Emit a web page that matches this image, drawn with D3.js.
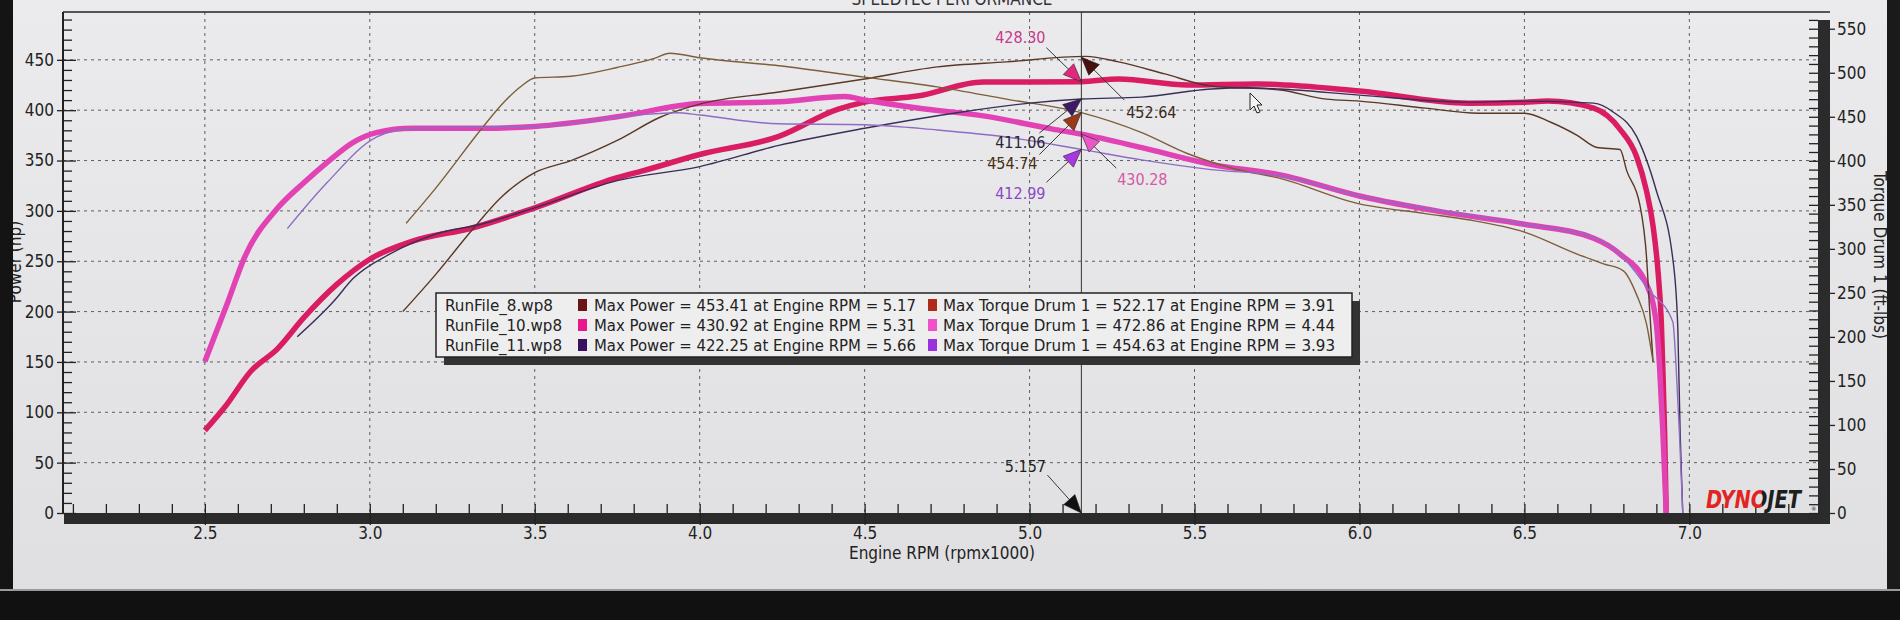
<!DOCTYPE html>
<html>
<head>
<meta charset="utf-8">
<script src="https://cdn.jsdelivr.net/npm/d3@7"></script>
<style>
  body { margin: 0; background: #111; }
  svg { display: block; }
  text { font-family: "DejaVu Sans Condensed", "DejaVu Sans", sans-serif; }
</style>
</head>
<body>
<script>
const width = 1900;
const height = 620;

// [engine rpm x1000, value]  power in hp (left axis), torque in ft-lbs (right axis)
const run8Power = [[3.10, 200], [3.20, 237], [3.31, 281], [3.40, 314], [3.50, 338], [3.61, 350], [3.75, 370], [3.88, 393], [4.00, 406], [4.24, 418], [4.50, 431], [4.72, 443], [4.93, 448], [5.17, 453.4], [5.27, 448], [5.41, 436], [5.55, 424], [5.76, 420], [5.90, 411], [6.00, 409], [6.20, 402], [6.36, 397], [6.50, 397], [6.58, 388], [6.66, 375], [6.72, 363], [6.79, 361], [6.81, 340], [6.85, 306], [6.87, 255], [6.88, 200], [6.89, 150]];
const run8Torque = [[3.11, 329], [3.20, 369], [3.34, 437], [3.40, 464], [3.46, 485], [3.50, 494], [3.61, 496], [3.75, 506], [3.86, 516], [3.91, 522.2], [4.00, 517], [4.24, 508], [4.50, 495], [4.72, 484], [4.93, 470], [5.157, 454.7], [5.34, 432], [5.48, 408], [5.62, 391], [5.76, 380], [5.99, 352], [6.20, 340], [6.33, 333], [6.50, 319], [6.66, 294], [6.74, 283], [6.80, 275], [6.84, 248], [6.87, 215], [6.89, 172]];
const run10Power = [[2.50, 82], [2.56, 105], [2.64, 141], [2.72, 163], [2.80, 194], [2.90, 227], [3.00, 252], [3.13, 270], [3.31, 283], [3.50, 303], [3.75, 333], [3.83, 340], [4.00, 356], [4.24, 374], [4.42, 401], [4.50, 408], [4.66, 414], [4.86, 428], [5.00, 428], [5.157, 428.3], [5.27, 431], [5.48, 425], [5.69, 426], [6.00, 419], [6.33, 407], [6.50, 408], [6.57, 409], [6.71, 402], [6.79, 381], [6.84, 354], [6.87, 320], [6.89, 285], [6.905, 240], [6.915, 190], [6.92, 140], [6.925, 80], [6.93, 0]];
const run10Torque = [[2.50, 172], [2.57, 240], [2.62, 290], [2.72, 346], [2.80, 375], [2.87, 398], [2.95, 421], [3.02, 432], [3.13, 437], [3.34, 437], [3.50, 439], [3.75, 450], [4.00, 465], [4.24, 467], [4.44, 472.9], [4.50, 469], [4.66, 460], [4.86, 451], [5.07, 436], [5.157, 430.3], [5.34, 415], [5.55, 396], [5.76, 384], [6.00, 360], [6.25, 342], [6.50, 328], [6.71, 312], [6.79, 294], [6.87, 260], [6.90, 215], [6.91, 165], [6.92, 90], [6.93, 0]];
const run11Power = [[2.78, 175], [2.89, 210], [2.95, 233], [3.06, 257], [3.20, 277], [3.34, 287], [3.50, 303], [3.75, 330], [4.00, 344], [4.24, 365], [4.50, 382], [4.79, 398], [5.00, 407], [5.157, 411.1], [5.34, 413], [5.55, 421], [5.66, 422.3], [5.76, 421], [6.00, 415], [6.33, 408], [6.50, 409], [6.71, 407], [6.77, 398], [6.84, 374], [6.90, 320], [6.95, 252], [6.965, 184], [6.972, 80], [6.98, 0]];
const run11Torque = [[2.75, 323], [2.87, 375], [3.02, 427], [3.13, 437], [3.50, 439], [3.81, 452], [3.93, 454.6], [4.00, 452], [4.24, 442], [4.50, 441], [4.72, 435], [4.93, 427], [5.157, 413], [5.34, 401], [5.55, 390], [5.76, 383], [6.00, 360], [6.50, 328], [6.71, 313], [6.79, 294], [6.88, 252], [6.95, 217], [6.96, 165], [6.97, 90], [6.98, 0]];

// legend
const runNames = ["RunFile_8.wp8", "RunFile_10.wp8", "RunFile_11.wp8"];
const maxPower = ["453.41", "430.92", "422.25"];
const maxPowerRpm = ["5.17", "5.31", "5.66"];
const maxTorque = ["522.17", "472.86", "454.63"];
const maxTorqueRpm = ["3.91", "4.44", "3.93"];

// cursor readout
const cursorRpm = 5.157;
const cursorValues = [428.30, 452.64, 411.06, 454.74, 412.99, 430.28];
const cursorAxes = ["left", "left", "left", "right", "right", "right"];

// ticks
const xTicks = [2.5, 3.0, 3.5, 4.0, 4.5, 5.0, 5.5, 6.0, 6.5, 7.0];
const leftTicks = [0, 50, 100, 150, 200, 250, 300, 350, 400, 450];
const rightTicks = [0, 50, 100, 150, 200, 250, 300, 350, 400, 450, 500, 550];

const x = d3.scaleLinear().domain([2.07, 7.39]).range([63, 1818]);
const yL = d3.scaleLinear().domain([0, 497.5]).range([513, 12]);
const yR = d3.scaleLinear().domain([0, 569]).range([513, 12]);

const svg = d3.select("body").append("svg").attr("width", width).attr("height", height);

const defs = svg.append("defs");
const grad = defs.append("linearGradient").attr("id", "screen").attr("x1", 0).attr("y1", 0).attr("x2", 0).attr("y2", 1);
grad.append("stop").attr("offset", "0%").attr("stop-color", "#ebebed");
grad.append("stop").attr("offset", "100%").attr("stop-color", "#dfdfe1");

// two-colour fill for the logo word (red DYNO, black JET)
const logoGrad = defs.append("linearGradient").attr("id", "logoFill")
  .attr("gradientUnits", "userSpaceOnUse").attr("x1", 1706).attr("x2", 1801).attr("y1", 0).attr("y2", 0);
logoGrad.append("stop").attr("offset", "0.585").attr("stop-color", "#e02424");
logoGrad.append("stop").attr("offset", "0.585").attr("stop-color", "#1e1e1e");

svg.append("rect").attr("width", width).attr("height", height).attr("fill", "url(#screen)");

// title, cut by the top of the photo
svg.append("text").attr("x", 952).attr("y", 5).attr("text-anchor", "middle")
  .attr("font-size", 17).attr("fill", "#333").text("SPEEDTEC PERFORMANCE");

// grid
svg.append("g").selectAll("line").data(xTicks).join("line")
  .attr("x1", (d) => x(d)).attr("x2", (d) => x(d)).attr("y1", 12).attr("y2", 513)
  .attr("stroke", "#5e5e5e").attr("stroke-dasharray", "3,4");
svg.append("g").selectAll("line").data(leftTicks.slice(1)).join("line")
  .attr("x1", 63).attr("x2", 1818).attr("y1", (d) => yL(d)).attr("y2", (d) => yL(d))
  .attr("stroke", "#5e5e5e").attr("stroke-dasharray", "3,4");

// frame
svg.append("line").attr("x1", 63).attr("x2", 1830).attr("y1", 12).attr("y2", 12).attr("stroke", "#222").attr("stroke-width", 1.5);
svg.append("line").attr("x1", 63).attr("x2", 63).attr("y1", 12).attr("y2", 513).attr("stroke", "#222").attr("stroke-width", 2);
svg.append("rect").attr("x", 64).attr("y", 513).attr("width", 1766).attr("height", 11).attr("fill", "#2b2b2b");
svg.append("rect").attr("x", 1818).attr("y", 20).attr("width", 12).attr("height", 504).attr("fill", "#2b2b2b");

function styleAxis(g, size) {
  g.select(".domain").remove();
  g.selectAll("line").attr("stroke", "#222").attr("stroke-width", 1.3);
  g.selectAll("text").attr("font-size", size).attr("fill", "#222")
    .attr("font-family", "'DejaVu Sans Condensed', 'DejaVu Sans', sans-serif");
}

// left axis
svg.append("g").attr("transform", "translate(63,0)")
  .call(d3.axisLeft(yL).tickValues(leftTicks).tickSize(6).tickPadding(3).tickFormat(d3.format("d")))
  .call((g) => styleAxis(g, 17));
svg.append("g").attr("transform", "translate(63,0)")
  .call(d3.axisRight(yL).tickValues(d3.range(0, 491, 10)).tickSize(9).tickFormat(""))
  .call((g) => styleAxis(g, 0))
  .call((g) => g.selectAll(".tick line").filter((d) => d % 50 === 0).attr("x2", 13));

// right axis
svg.append("g").attr("transform", "translate(1830,0)")
  .call(d3.axisRight(yR).tickValues(rightTicks).tickSize(5).tickPadding(2).tickFormat(d3.format("d")))
  .call((g) => styleAxis(g, 17));
svg.append("g").attr("transform", "translate(1818,0)")
  .call(d3.axisLeft(yR).tickValues(d3.range(0, 561, 10)).tickSize(9).tickFormat(""))
  .call((g) => styleAxis(g, 0));

// bottom axis
svg.append("g").attr("transform", "translate(0,513)")
  .call(d3.axisBottom(x).tickValues(xTicks).tickSize(12).tickPadding(2).tickFormat(d3.format(".1f")))
  .call((g) => styleAxis(g, 17));
svg.append("g").attr("transform", "translate(0,513)")
  .call(d3.axisTop(x).tickValues(d3.range(21, 74).map((d) => d / 10)).tickSize(9).tickFormat(""))
  .call((g) => styleAxis(g, 0));

svg.append("text").attr("x", 942).attr("y", 559).attr("text-anchor", "middle")
  .attr("font-size", 17).attr("fill", "#222").text("Engine RPM (rpmx1000)");

svg.append("text").attr("transform", "translate(1874,255) rotate(90)").attr("text-anchor", "middle")
  .attr("font-size", 17).attr("fill", "#222").text("Torque Drum 1 (ft-lbs)");
svg.append("text").attr("transform", "translate(21,262) rotate(-90)").attr("text-anchor", "middle")
  .attr("font-size", 17).attr("fill", "#222").text("Power (hp)");

// curves
const series = [
  { data: run10Power, y: yL, color: "#da1c62", w: 5.5 },
  { data: run10Torque, y: yR, color: "#e243b4", w: 5.5 },
  { data: run8Power, y: yL, color: "#5a3826", w: 1.4 },
  { data: run8Torque, y: yR, color: "#7d5e3a", w: 1.4 },
  { data: run11Power, y: yL, color: "#3a2e58", w: 1.4 },
  { data: run11Torque, y: yR, color: "#8f6cc4", w: 1.4 },
];
const plot = svg.append("g");
series.forEach((s) => {
  const line = d3.line().x((d) => x(d[0])).y((d) => s.y(d[1])).curve(d3.curveMonotoneX);
  plot.append("path").datum(s.data).attr("d", line)
    .attr("fill", "none").attr("stroke", s.color).attr("stroke-width", s.w)
    .attr("stroke-linejoin", "round");
});

// cursor line
svg.append("line").attr("x1", x(cursorRpm)).attr("x2", x(cursorRpm)).attr("y1", 12).attr("y2", 513)
  .attr("stroke", "#333").attr("stroke-width", 1);

// cursor readouts: label offset, leader start offset, colours
const readStyle = [
  { label: [-61, -44], lead: [-35, -34], color: "#c63a8a", tri: "#e2287e" },
  { label: [70, 55], lead: [43, 43], color: "#3b2b1b", tri: "#4a1010" },
  { label: [-61, 43], lead: [-42, 34], color: "#2a2535", tri: "#3c1a66" },
  { label: [-69, 51], lead: [-42, 42], color: "#4a3010", tri: "#9a3a18" },
  { label: [-61, 44], lead: [-35, 33], color: "#8a48c8", tri: "#a838e0" },
  { label: [61, 45], lead: [35, 34], color: "#d45aa8", tri: "#ea58c8" },
];
const readouts = cursorValues.map((v, i) => ({
  ...readStyle[i],
  label_text: v.toFixed(2),
  px: x(cursorRpm),
  py: cursorAxes[i] === "left" ? yL(v) : yR(v),
}));
readouts.push({
  label_text: String(cursorRpm), px: x(cursorRpm), py: yL(0),
  label: [-56, -47], lead: [-34, -38], color: "#222", tri: "#111",
});

const ann = svg.append("g");
readouts.forEach((r) => {
  const sx = r.px + r.lead[0];
  const sy = r.py + r.lead[1];
  ann.append("line").attr("x1", sx).attr("y1", sy).attr("x2", r.px).attr("y2", r.py)
    .attr("stroke", "#3a3a3a").attr("stroke-width", 1);
  const a = Math.atan2(r.py - sy, r.px - sx);
  const len = 18;
  const hw = 7.5;
  const bx = r.px - len * Math.cos(a);
  const by = r.py - len * Math.sin(a);
  const pts = [
    [r.px, r.py],
    [bx + hw * Math.sin(a), by - hw * Math.cos(a)],
    [bx - hw * Math.sin(a), by + hw * Math.cos(a)],
  ];
  ann.append("polygon").attr("points", pts.map((p) => p.join(",")).join(" "))
    .attr("fill", r.tri).attr("stroke", "#222").attr("stroke-width", 0.6);
  ann.append("text").attr("x", r.px + r.label[0]).attr("y", r.py + r.label[1]).attr("dy", "0.35em")
    .attr("text-anchor", "middle").attr("font-size", 16).attr("fill", r.color)
    .text(r.label_text);
});

// legend
const lg = svg.append("g");
lg.append("rect").attr("x", 444).attr("y", 301).attr("width", 916).attr("height", 64).attr("fill", "#333");
lg.append("rect").attr("x", 436).attr("y", 293).attr("width", 916).attr("height", 64)
  .attr("fill", "#eeeeef").attr("stroke", "#222").attr("stroke-width", 1.5);
const powerSw = ["#6a1414", "#e8188a", "#3a1060"];
const torqueSw = ["#b02a1a", "#f050c8", "#9a30e0"];
runNames.forEach((name, i) => {
  const yy = 305 + i * 20;
  lg.append("text").attr("x", 445).attr("y", yy).attr("dy", "0.35em").attr("font-size", 16)
    .attr("fill", "#222").attr("textLength", name.length > 13 ? 117 : 108).attr("lengthAdjust", "spacingAndGlyphs").text(name);
  lg.append("rect").attr("x", 578).attr("y", yy - 6).attr("width", 9).attr("height", 12).attr("fill", powerSw[i]);
  lg.append("text").attr("x", 594).attr("y", yy).attr("dy", "0.35em").attr("font-size", 16).attr("fill", "#222")
    .attr("textLength", 322).attr("lengthAdjust", "spacingAndGlyphs")
    .text(`Max Power = ${maxPower[i]} at Engine RPM = ${maxPowerRpm[i]}`);
  lg.append("rect").attr("x", 928).attr("y", yy - 6).attr("width", 9).attr("height", 12).attr("fill", torqueSw[i]);
  lg.append("text").attr("x", 943).attr("y", yy).attr("dy", "0.35em").attr("font-size", 16).attr("fill", "#222")
    .attr("textLength", 392).attr("lengthAdjust", "spacingAndGlyphs")
    .text(`Max Torque Drum 1 = ${maxTorque[i]} at Engine RPM = ${maxTorqueRpm[i]}`);
});

// mouse pointer
svg.append("path").attr("transform", "translate(1250,93)")
  .attr("d", "M0,0 L0,17 L4,13 L7,20 L10,19 L7,12 L12,12 Z")
  .attr("fill", "#f4f4f4").attr("stroke", "#222").attr("stroke-width", 1);

// logo
svg.append("text").attr("x", 1706).attr("y", 508).attr("font-size", 24)
  .attr("font-weight", "bold").attr("font-style", "italic")
  .attr("font-family", "'DejaVu Sans Condensed', 'DejaVu Sans', sans-serif")
  .attr("textLength", 95).attr("lengthAdjust", "spacingAndGlyphs")
  .attr("fill", "url(#logoFill)").text("DYNOJET");
svg.append("text").attr("x", 1811).attr("y", 511).attr("font-size", 6).attr("fill", "#222").text("®");

// dark edges of the monitor
svg.append("rect").attr("x", 0).attr("y", 0).attr("width", 13).attr("height", height).attr("fill", "#141414");
svg.append("rect").attr("x", 1887).attr("y", 0).attr("width", 13).attr("height", height).attr("fill", "#1a1a1a");
svg.append("rect").attr("x", 0).attr("y", 589).attr("width", width).attr("height", 2).attr("fill", "#9a9a9a");
svg.append("rect").attr("x", 0).attr("y", 591).attr("width", width).attr("height", 29).attr("fill", "#111");
</script>
</body>
</html>
